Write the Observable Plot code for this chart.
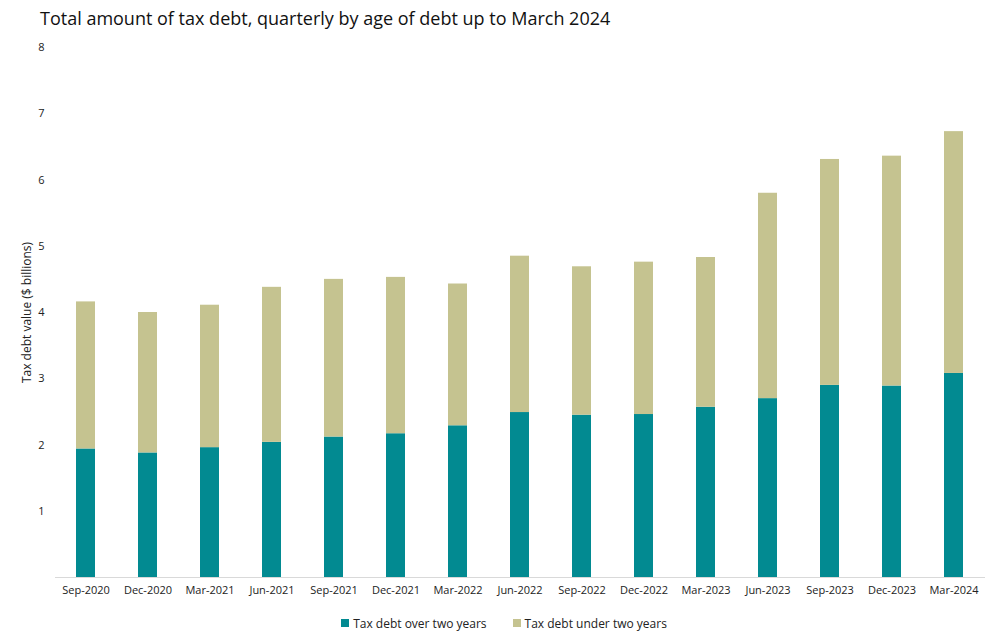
<!DOCTYPE html>
<html>
<head>
<meta charset="utf-8">
<script src="https://cdn.jsdelivr.net/npm/d3@7"></script>
<script src="https://cdn.jsdelivr.net/npm/@observablehq/plot@0.6"></script>
<style>
  body { margin: 0; background: #fff; font-family: "Open Sans", sans-serif; }
  #wrap { width: 1000px; height: 642px; position: relative; }
  #title { height: 36px; line-height: 36px; padding-left: 40px; font-size: 18px; color: #111; font-family: "Open Sans", sans-serif; }
  #legend { height: 38px; display: flex; justify-content: center; align-items: center; gap: 26px; font-size: 12px; color: #222; font-family: "Open Sans", sans-serif; padding-left: 8px; box-sizing: border-box; }
  .item { display: flex; align-items: center; gap: 4px; }
  .sw { width: 8px; height: 8px; display: inline-block; }
</style>
</head>
<body>
<div id="wrap">
  <div id="title">Total amount of tax debt, quarterly by age of debt up to March 2024</div>
  <div id="chart"></div>
  <div id="legend"></div>
</div>
<script>
const quarters = ["Sep-2020","Dec-2020","Mar-2021","Jun-2021","Sep-2021","Dec-2021","Mar-2022","Jun-2022","Sep-2022","Dec-2022","Mar-2023","Jun-2023","Sep-2023","Dec-2023","Mar-2024"];
const overTwo  = [1.94, 1.88, 1.96, 2.04, 2.12, 2.17, 2.29, 2.49, 2.45, 2.46, 2.57, 2.70, 2.90, 2.89, 3.08];
const totals   = [4.16, 4.00, 4.11, 4.38, 4.50, 4.53, 4.43, 4.85, 4.69, 4.76, 4.83, 5.80, 6.31, 6.36, 6.73];
const seriesNames = ["Tax debt over two years", "Tax debt under two years"];
const seriesColors = ["#028A91", "#C5C390"];
const yTicks = [1, 2, 3, 4, 5, 6, 7, 8];
const yLabel = "Tax debt value ($ billions)";

const underTwo = totals.map((t, i) => +(t - overTwo[i]).toFixed(2));
const data = [];
quarters.forEach((q, i) => {
  data.push({quarter: q, series: seriesNames[0], value: overTwo[i]});
  data.push({quarter: q, series: seriesNames[1], value: underTwo[i]});
});

const plot = Plot.plot({
  width: 1000,
  height: 568,
  marginTop: 11,
  marginBottom: 27,
  marginLeft: 55,
  marginRight: 15,
  style: {fontFamily: "Open Sans, sans-serif", fontSize: "11px", color: "#222"},
  x: {domain: quarters, paddingInner: 0.69, paddingOuter: 0.345, label: null, tickSize: 0, tickPadding: 9},
  y: {domain: [0, 8], ticks: yTicks, label: null, tickSize: 0, tickPadding: 11, tickFormat: d => d},
  color: {domain: seriesNames, range: seriesColors},
  marks: [
    Plot.barY(data, {x: "quarter", y: "value", fill: "series", order: seriesNames}),
    Plot.ruleY([0], {stroke: "#d9d9d9", strokeWidth: 1}),
    Plot.text([yLabel], {frameAnchor: "left", textAnchor: "middle", rotate: -90, dx: -28, fontSize: 12, fill: "#222"})
  ]
});
document.getElementById("chart").appendChild(plot);

const legend = document.getElementById("legend");
seriesNames.forEach((name, i) => {
  const it = document.createElement("div");
  it.className = "item";
  const sw = document.createElement("span");
  sw.className = "sw";
  sw.style.background = seriesColors[i];
  const tx = document.createElement("span");
  tx.textContent = name;
  it.appendChild(sw); it.appendChild(tx);
  legend.appendChild(it);
});
</script>
</body>
</html>
